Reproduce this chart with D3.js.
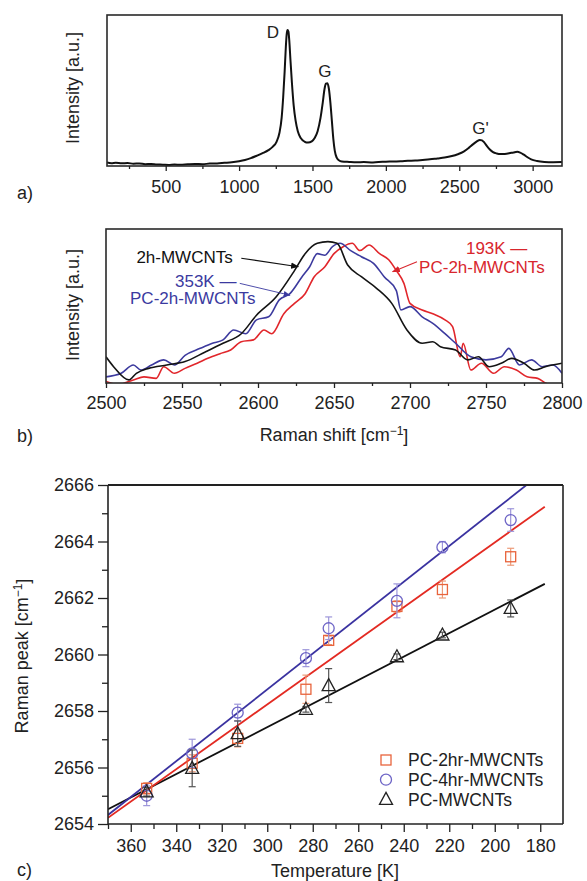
<!DOCTYPE html>
<html>
<head>
<meta charset="utf-8">
<script src="https://cdn.jsdelivr.net/npm/d3@7"></script>
<style>
body { margin: 0; background: #fff; }
svg { display: block; font-family: "Liberation Sans", Arial, sans-serif; }
</style>
</head>
<body>
<svg id="fig" width="587" height="881"></svg>
<script>
// ---- panel a: full Raman spectrum ----
const spectrum = [
    [100, 2.4], [130, 1.9], [160, 2.2], [200, 1.8], [240, 2.0], [280, 1.5], [320, 1.7], [360, 1.2],
    [400, 1.4], [440, 1.0], [480, 0.9], [520, 0.7], [560, 1.0], [600, 0.8], [650, 1.1], [700, 1.3],
    [750, 1.2], [800, 1.6], [850, 1.7], [900, 2.1], [950, 2.5], [1000, 3.2], [1040, 4.0], [1080, 5.2],
    [1120, 6.8], [1160, 8.5], [1200, 10.5], [1230, 12.8], [1255, 16], [1275, 22], [1290, 32], [1300, 45],
    [1310, 62], [1318, 78], [1324, 87], [1330, 90], [1336, 89], [1342, 83], [1350, 70], [1360, 55],
    [1372, 40], [1385, 30], [1400, 23], [1420, 18.5], [1445, 16.2], [1470, 15.5], [1495, 16.3], [1515, 18.5],
    [1535, 23], [1555, 32], [1570, 42], [1582, 51], [1592, 54.5], [1602, 54.8], [1612, 51], [1622, 42],
    [1632, 30], [1642, 18], [1652, 10], [1665, 5.5], [1680, 3.8], [1700, 3.0], [1750, 2.7], [1800, 2.5],
    [1850, 2.6], [1900, 2.4], [1950, 2.7], [2000, 2.8], [2050, 3.0], [2100, 3.1], [2150, 3.4], [2200, 3.6],
    [2250, 4.0], [2300, 4.4], [2350, 5.0], [2400, 5.6], [2450, 6.6], [2490, 7.8], [2530, 9.5], [2565, 12],
    [2595, 14.5], [2620, 16.3], [2640, 17.3], [2655, 17.0], [2670, 15.6], [2690, 13], [2710, 10.8], [2730, 9.2],
    [2755, 8.3], [2780, 7.9], [2810, 8.0], [2840, 8.4], [2870, 9.0], [2895, 9.4], [2915, 8.9], [2940, 7.5],
    [2965, 5.8], [2990, 4.4], [3030, 3.3], [3080, 2.7], [3140, 2.5], [3200, 2.6]
];
const peakNames = ["D", "G", "G'"];
const peakLabelShift = [1231, 1585, 2644];
const peakLabelLevel = [88.7, 63, 25];
const aMajorTicks = [500, 1000, 1500, 2000, 2500, 3000];
const aMinorTicks = [250, 750, 1250, 1750, 2250, 2750];

// ---- panel b: 2D band, normalised ----
const curve2h = [
    [2500, 17], [2505, 10.6], [2515, 2], [2520, 6.3], [2528, 9.5], [2540, 11.7], [2552, 13.9], [2565, 20],
    [2577, 25.8], [2589, 32], [2599, 44], [2612, 56], [2624, 73], [2631, 84], [2639, 90.7], [2646, 91.8],
    [2652, 90.7], [2659, 76.6], [2668, 69], [2678, 61.5], [2688, 51.7], [2698, 34.4], [2708, 25.8], [2715, 26.8],
    [2720, 23.6], [2730, 21.4], [2738, 15], [2745, 17], [2752, 10.6], [2760, 12.8], [2767, 16], [2775, 12.8],
    [2782, 8.4], [2789, 10.6], [2800, 12.8]
];
const curve353K = [
    [2500, 4], [2510, 6.3], [2518, 11.7], [2523, 8.4], [2530, 11.7], [2538, 15], [2545, 11.7], [2552, 18],
    [2562, 22.5], [2570, 25.8], [2577, 28], [2584, 34.4], [2592, 32], [2599, 41], [2607, 43], [2614, 54],
    [2621, 58], [2629, 69], [2634, 75.5], [2639, 84], [2644, 83], [2649, 88.5], [2654, 90.7], [2661, 86],
    [2668, 82], [2676, 77.7], [2683, 69], [2691, 60], [2694, 47.4], [2700, 49.6], [2708, 43], [2715, 38.7],
    [2723, 32], [2730, 25.8], [2740, 17], [2750, 15], [2760, 17], [2765, 22.5], [2772, 11.7], [2780, 15],
    [2787, 10.6], [2794, 11.7], [2800, 6.3]
];
const curve193K = [
    [2500, 1], [2508, -1], [2518, 2], [2525, 4], [2533, 3], [2538, 10.6], [2545, 6.3], [2552, 9.5],
    [2560, 12.8], [2567, 16], [2575, 19], [2582, 21.4], [2589, 26.8], [2597, 28], [2604, 34.4], [2609, 32],
    [2617, 45], [2624, 51.7], [2631, 58], [2637, 69], [2644, 75.5], [2650, 84], [2656, 88.5], [2662, 90.7],
    [2667, 86], [2673, 89.6], [2680, 84], [2686, 80], [2691, 73], [2696, 64.7], [2700, 51.7], [2708, 47.4],
    [2715, 45], [2723, 41], [2728, 36.6], [2733, 17], [2735, 25.8], [2740, 8.4], [2747, 12.8], [2755, 6.3],
    [2762, 10.6], [2770, 8.4], [2777, 4], [2784, 3], [2789, 0], [2800, -3]
];
const bMajorTicks = [2500, 2550, 2600, 2650, 2700, 2750, 2800];
const bMinorTicks = [2525, 2575, 2625, 2675, 2725, 2775];

// ---- panel c: 2D peak position vs temperature ----
const temperatures = [353, 333, 313, 283, 273, 243, 223, 193];
const peak2hr = [2655.26, 2656.15, 2657.03, 2658.77, 2660.5, 2661.7, 2662.3, 2663.46];
const err2hr = [0.2, 0.3, 0.3, 0.5, 0.15, 0.2, 0.3, 0.3];
const peak4hr = [2655.0, 2656.5, 2657.94, 2659.87, 2660.93, 2661.9, 2663.8, 2664.76];
const err4hr = [0.35, 0.5, 0.3, 0.3, 0.4, 0.6, 0.2, 0.4];
const peakPlain = [2655.14, 2655.97, 2657.2, 2658.06, 2658.9, 2659.92, 2660.69, 2661.63];
const errPlain = [0.15, 0.65, 0.45, 0.1, 0.6, 0.1, 0.1, 0.3];
const fitT = [370, 178];
const fit2hr = [2654.22, 2665.23];
const fit4hr = [2654.32, 2666.51];
const fitPlain = [2654.52, 2662.5];
const seriesNames = ["PC-2hr-MWCNTs", "PC-4hr-MWCNTs", "PC-MWCNTs"];
const cMajorX = [360, 340, 320, 300, 280, 260, 240, 220, 200, 180];
const cMinorX = [370, 350, 330, 310, 290, 270, 250, 230, 210, 190];
const cMajorY = [2654, 2656, 2658, 2660, 2662, 2664, 2666];
const cMinorY = [2655, 2657, 2659, 2661, 2663, 2665];

const svg = d3.select("#fig");
svg.append("rect").attr("width", 587).attr("height", 881).attr("fill", "#fff");

const defs = svg.append("defs");
function arrowMarker(id, color, size) {
    defs.append("marker")
        .attr("id", id)
        .attr("viewBox", "0 0 10 10")
        .attr("refX", 9).attr("refY", 5)
        .attr("markerWidth", size).attr("markerHeight", size)
        .attr("markerUnits", "userSpaceOnUse")
        .attr("orient", "auto")
        .append("path")
        .attr("d", "M0,1 L10,5 L0,9 Z")
        .attr("fill", color);
}
arrowMarker("arrBlack", "#111", 8);
arrowMarker("arrBlue", "#3b3aa0", 7);
arrowMarker("arrRed", "#d8262d", 8);

function clipRect(id, x0, y0, x1, y1) {
    defs.append("clipPath").attr("id", id)
        .append("rect").attr("x", x0).attr("y", y0).attr("width", x1 - x0).attr("height", y1 - y0);
}

function styleAxis(g, fontSize) {
    g.select(".domain").remove();
    g.selectAll("line").attr("stroke", "#222").attr("stroke-width", 1.3);
    g.selectAll("text").attr("font-size", fontSize).attr("fill", "#222")
        .attr("font-family", "'Liberation Sans', Arial, sans-serif");
}

function frame(x0, y0, x1, y1) {
    svg.append("rect")
        .attr("x", x0).attr("y", y0).attr("width", x1 - x0).attr("height", y1 - y0)
        .attr("fill", "none").attr("stroke", "#2a2a2a").attr("stroke-width", 1.6);
}

function bottomTicks(x, y0, major, minor, padding) {
    const gMin = svg.append("g").attr("transform", `translate(0, ${y0})`)
        .call(d3.axisBottom(x).tickValues(minor).tickSize(3).tickFormat(""));
    styleAxis(gMin, 18);
    const gMaj = svg.append("g").attr("transform", `translate(0, ${y0})`)
        .call(d3.axisBottom(x).tickValues(major).tickSize(5).tickPadding(padding).tickFormat(d3.format("d")));
    styleAxis(gMaj, 18);
}

function rotatedLabel(cx, cy, txt) {
    svg.append("text")
        .attr("transform", `translate(${cx}, ${cy}) rotate(-90)`)
        .attr("text-anchor", "middle").attr("dy", "0.35em")
        .attr("font-size", 18).attr("fill", "#222")
        .text(txt);
}

function panelTag(x, y, txt) {
    svg.append("text").attr("x", x).attr("y", y).attr("dy", "0.35em")
        .attr("font-size", 18).attr("fill", "#222").text(txt);
}

// ================= panel a =================
const ax = d3.scaleLinear().domain([100, 3200]).range([107, 562]);
const ay = d3.scaleLinear().domain([0, 100]).range([166, 15]);
clipRect("clipA", 107, 15, 562, 166);

svg.append("path")
    .datum(spectrum)
    .attr("clip-path", "url(#clipA)")
    .attr("d", d3.line().x(d => ax(d[0])).y(d => ay(d[1])).curve(d3.curveMonotoneX))
    .attr("fill", "none").attr("stroke", "#111").attr("stroke-width", 2);

frame(107, 15, 562, 166);
bottomTicks(ax, 166, aMajorTicks, aMinorTicks, 9);

svg.selectAll(".peak-label")
    .data(peakNames)
    .enter()
    .append("text")
    .attr("class", "peak-label")
    .attr("x", (d, i) => ax(peakLabelShift[i]))
    .attr("y", (d, i) => ay(peakLabelLevel[i]))
    .attr("dy", "0.35em")
    .attr("text-anchor", "middle")
    .attr("font-size", 17).attr("fill", "#222")
    .text(d => d);

rotatedLabel(73, 88, "Intensity [a.u.]");
panelTag(17, 193, "a)");

// ================= panel b =================
const bx = d3.scaleLinear().domain([2500, 2800]).range([106, 562]);
const by = d3.scaleLinear().domain([0, 100]).range([383, 229]);
clipRect("clipB", 106, 229, 562, 383);

const bLine = d3.line().x(d => bx(d[0])).y(d => by(d[1])).curve(d3.curveMonotoneX);
const bSeries = [
    { data: curve193K, color: "#e1262b" },
    { data: curve353K, color: "#3c3a9e" },
    { data: curve2h, color: "#141414" }
];
bSeries.forEach(s => {
    svg.append("path")
        .datum(s.data)
        .attr("clip-path", "url(#clipB)")
        .attr("d", bLine)
        .attr("fill", "none").attr("stroke", s.color).attr("stroke-width", 1.6);
});

frame(106, 229, 562, 383);
bottomTicks(bx, 383, bMajorTicks, bMinorTicks, 8);

// annotations
function bText(shift, level, txt, color) {
    svg.append("text").attr("x", bx(shift)).attr("y", by(level)).attr("dy", "0.35em")
        .attr("font-size", 17).attr("fill", color).text(txt);
}
function bArrow(s0, l0, s1, l1, color, marker, width) {
    svg.append("line")
        .attr("x1", bx(s0)).attr("y1", by(l0)).attr("x2", bx(s1)).attr("y2", by(l1))
        .attr("stroke", color).attr("stroke-width", width)
        .attr("marker-end", `url(#${marker})`);
}
bText(2520, 81.5, "2h-MWCNTs", "#111");
bArrow(2589, 81, 2626.5, 75.5, "#111", "arrBlack", 1.2);
bText(2545.4, 66.4, "353K \u2014", "#3b3aa0");
bText(2515.8, 55, "PC-2h-MWCNTs", "#3b3aa0");
bArrow(2588, 64.7, 2621, 57, "#3b3aa0", "arrBlue", 0.9);
bText(2736.8, 87.5, "193K \u2014", "#d8262d");
bText(2706, 75.5, "PC-2h-MWCNTs", "#d8262d");
bArrow(2704.6, 78.8, 2688.6, 72.3, "#d8262d", "arrRed", 1.1);

rotatedLabel(73, 305, "Intensity [a.u.]");
const bTitle = svg.append("text").attr("x", 334).attr("y", 435).attr("dy", "0.35em")
    .attr("text-anchor", "middle").attr("font-size", 18).attr("fill", "#222");
bTitle.append("tspan").text("Raman shift [cm");
bTitle.append("tspan").attr("font-size", 12).attr("dy", "-0.55em").text("\u22121");
bTitle.append("tspan").attr("dy", "0.42em").text("]");
panelTag(17, 436, "b)");

// ================= panel c =================
const cx = d3.scaleLinear().domain([370, 170]).range([108, 563]);
const cy = d3.scaleLinear().domain([2654, 2666]).range([824, 485]);
clipRect("clipC", 108, 485, 563, 824);

// fit lines
const fits = [
    { vals: fitPlain, color: "#111" },
    { vals: fit2hr, color: "#e32a22" },
    { vals: fit4hr, color: "#3a32a0" }
];
fits.forEach(f => {
    svg.append("line")
        .attr("clip-path", "url(#clipC)")
        .attr("x1", cx(fitT[0])).attr("y1", cy(f.vals[0]))
        .attr("x2", cx(fitT[1])).attr("y2", cy(f.vals[1]))
        .attr("stroke", f.color).attr("stroke-width", 1.8);
});

const series = [
    { peaks: peak2hr, errs: err2hr, color: "#e8643c", errColor: "#ec9a78", shape: "square" },
    { peaks: peak4hr, errs: err4hr, color: "#6d64c6", errColor: "#9d96da", shape: "circle" },
    { peaks: peakPlain, errs: errPlain, color: "#222", errColor: "#555", shape: "triangle" }
];

function drawMarker(g, shape, x, y, color) {
    if (shape === "square") {
        g.append("rect").attr("x", x - 5).attr("y", y - 5).attr("width", 10).attr("height", 10)
            .attr("fill", "none").attr("stroke", color).attr("stroke-width", 1.3);
    } else if (shape === "circle") {
        g.append("circle").attr("cx", x).attr("cy", y).attr("r", 5.5)
            .attr("fill", "none").attr("stroke", color).attr("stroke-width", 1.3);
    } else {
        g.append("path")
            .attr("d", `M${x},${y - 7} L${x + 6.5},${y + 5} L${x - 6.5},${y + 5} Z`)
            .attr("fill", "none").attr("stroke", color).attr("stroke-width", 1.3);
    }
}

series.forEach(s => {
    const g = svg.append("g");
    temperatures.forEach((t, i) => {
        const x = cx(t);
        const yTop = cy(s.peaks[i] + s.errs[i]);
        const yBot = cy(s.peaks[i] - s.errs[i]);
        g.append("line").attr("x1", x).attr("x2", x).attr("y1", yTop).attr("y2", yBot)
            .attr("stroke", s.errColor).attr("stroke-width", 1.2);
        [yTop, yBot].forEach(yy => {
            g.append("line").attr("x1", x - 3.5).attr("x2", x + 3.5).attr("y1", yy).attr("y2", yy)
                .attr("stroke", s.errColor).attr("stroke-width", 1.2);
        });
    });
    temperatures.forEach((t, i) => {
        drawMarker(g, s.shape, cx(t), cy(s.peaks[i]), s.color);
    });
});

// frame: top and right
svg.append("line").attr("x1", 108).attr("x2", 563).attr("y1", 485).attr("y2", 485)
    .attr("stroke", "#222").attr("stroke-width", 2.2);
svg.append("line").attr("x1", 563).attr("x2", 563).attr("y1", 485).attr("y2", 824)
    .attr("stroke", "#222").attr("stroke-width", 1.6);

// axes
const cxMin = svg.append("g").attr("transform", "translate(0, 824)")
    .call(d3.axisBottom(cx).tickValues(cMinorX).tickSize(5).tickFormat(""));
styleAxis(cxMin, 18);
const cxMaj = svg.append("g").attr("transform", "translate(0, 824)")
    .call(d3.axisBottom(cx).tickValues(cMajorX).tickSize(8).tickPadding(7).tickFormat(d3.format("d")));
styleAxis(cxMaj, 18);
const cyMin = svg.append("g").attr("transform", "translate(108, 0)")
    .call(d3.axisLeft(cy).tickValues(cMinorY).tickSize(6).tickFormat(""));
styleAxis(cyMin, 18);
const cyMaj = svg.append("g").attr("transform", "translate(108, 0)")
    .call(d3.axisLeft(cy).tickValues(cMajorY).tickSize(10).tickPadding(4).tickFormat(d3.format("d")));
styleAxis(cyMaj, 18);
svg.append("line").attr("x1", 108).attr("x2", 108).attr("y1", 485).attr("y2", 824)
    .attr("stroke", "#222").attr("stroke-width", 1.6);
svg.append("line").attr("x1", 108).attr("x2", 563).attr("y1", 824).attr("y2", 824)
    .attr("stroke", "#222").attr("stroke-width", 1.6);

// legend
const legend = svg.append("g");
seriesNames.forEach((name, i) => {
    const ly = 760 + i * 19.7;
    drawMarker(legend, series[i].shape, 386, ly, series[i].color);
    legend.append("text").attr("x", 408).attr("y", ly).attr("dy", "0.35em")
        .attr("font-size", 17.5).attr("fill", "#222").text(name);
});

const cTitle = svg.append("text")
    .attr("transform", "translate(22, 656) rotate(-90)")
    .attr("text-anchor", "middle").attr("dy", "0.35em")
    .attr("font-size", 18).attr("fill", "#222");
cTitle.append("tspan").text("Raman peak [cm");
cTitle.append("tspan").attr("font-size", 12).attr("dy", "-0.55em").text("\u22121");
cTitle.append("tspan").attr("dy", "0.42em").text("]");

svg.append("text").attr("x", 335).attr("y", 871).attr("dy", "0.35em")
    .attr("text-anchor", "middle").attr("font-size", 18).attr("fill", "#222")
    .text("Temperature [K]");
panelTag(17, 870, "c)");
</script>
</body>
</html>
